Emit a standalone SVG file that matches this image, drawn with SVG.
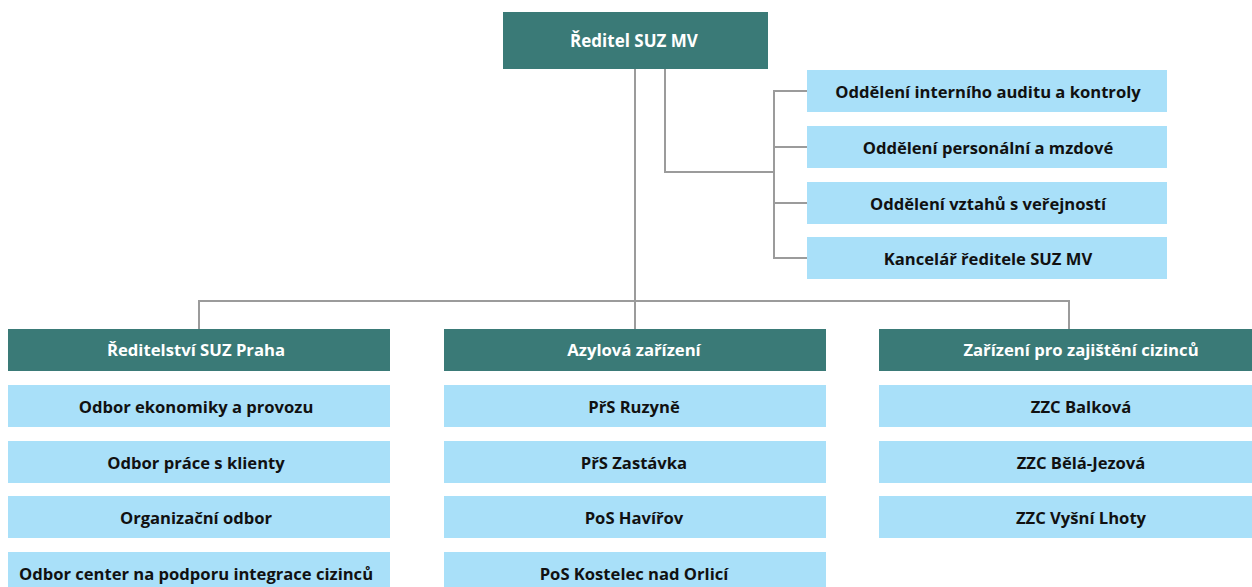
<svg xmlns="http://www.w3.org/2000/svg" width="1252" height="587" viewBox="0 0 1252 587">
<style>
.hd{fill:#3a7a77}
.bx{fill:#a9e0f9}
.th{font-family:"Open Sans",Lato,"Liberation Sans",sans-serif;font-weight:bold;font-size:16.7px;fill:#ffffff;text-anchor:middle}
.tb{font-family:"Open Sans",Lato,"Liberation Sans",sans-serif;font-weight:bold;font-size:16.6px;fill:#111111;text-anchor:middle}
.ln{fill:none;stroke:#9b9b9b;stroke-width:2}
</style>
<rect width="1252" height="587" fill="#ffffff"/>
<g id="connectors">
<path class="ln" d="M635 69 V329"/>
<path class="ln" d="M199 329 V301 H1069 V329"/>
<path class="ln" d="M665 69 V172 H774"/>
<path class="ln" d="M807 91 H774 V258 H807 M774 147 H807 M774 203 H807"/>
</g>
<g id="n-reditel"><rect class="hd" x="503" y="12" width="265" height="57"/><text class="th" x="634" y="47" style="font-size:17px">Ředitel SUZ MV</text></g>
<g id="n-audit"><rect class="bx" x="807" y="70" width="360" height="42"/><text class="tb" x="988" y="98">Oddělení interního auditu a kontroly</text></g>
<g id="n-personal"><rect class="bx" x="807" y="126" width="360" height="42"/><text class="tb" x="988" y="154">Oddělení personální a mzdové</text></g>
<g id="n-vztahy"><rect class="bx" x="807" y="182" width="360" height="42"/><text class="tb" x="988" y="210">Oddělení vztahů s veřejností</text></g>
<g id="n-kancelar"><rect class="bx" x="807" y="237" width="360" height="42"/><text class="tb" x="988" y="265">Kancelář ředitele SUZ MV</text></g>
<g id="n-praha"><rect class="hd" x="8" y="329" width="382" height="42"/><text class="th" x="196" y="356">Ředitelství SUZ Praha</text></g>
<g id="n-azyl"><rect class="hd" x="444" y="329" width="382" height="42"/><text class="th" x="634" y="356">Azylová zařízení</text></g>
<g id="n-zzc"><rect class="hd" x="879" y="329" width="405" height="42"/><text class="th" x="1081" y="356">Zařízení pro zajištění cizinců</text></g>
<g id="n-ekon"><rect class="bx" x="8" y="385" width="382" height="42"/><text class="tb" x="196" y="413">Odbor ekonomiky a provozu</text></g>
<g id="n-klienty"><rect class="bx" x="8" y="441" width="382" height="42"/><text class="tb" x="196" y="469">Odbor práce s klienty</text></g>
<g id="n-org"><rect class="bx" x="8" y="496" width="382" height="42"/><text class="tb" x="196" y="524">Organizační odbor</text></g>
<g id="n-center"><rect class="bx" x="8" y="552" width="382" height="42"/><text class="tb" x="196" y="580">Odbor center na podporu integrace cizinců</text></g>
<g id="n-ruzyne"><rect class="bx" x="444" y="385" width="382" height="42"/><text class="tb" x="634" y="413">PřS Ruzyně</text></g>
<g id="n-zastavka"><rect class="bx" x="444" y="441" width="382" height="42"/><text class="tb" x="634" y="469">PřS Zastávka</text></g>
<g id="n-havirov"><rect class="bx" x="444" y="496" width="382" height="42"/><text class="tb" x="634" y="524">PoS Havířov</text></g>
<g id="n-kostelec"><rect class="bx" x="444" y="552" width="382" height="42"/><text class="tb" x="634" y="580">PoS Kostelec nad Orlicí</text></g>
<g id="n-balkova"><rect class="bx" x="879" y="385" width="405" height="42"/><text class="tb" x="1081" y="413">ZZC Balková</text></g>
<g id="n-bela"><rect class="bx" x="879" y="441" width="405" height="42"/><text class="tb" x="1081" y="469">ZZC Bělá-Jezová</text></g>
<g id="n-lhoty"><rect class="bx" x="879" y="496" width="405" height="42"/><text class="tb" x="1081" y="524">ZZC Vyšní Lhoty</text></g>
</svg>
